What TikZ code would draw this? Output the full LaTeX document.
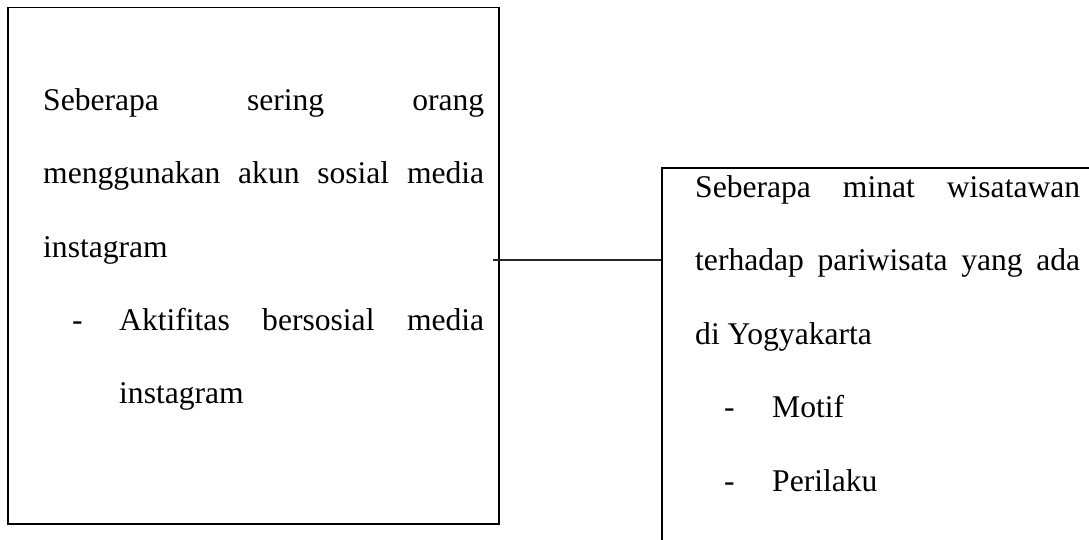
\documentclass[tikz,border=0pt]{standalone}
\usepackage{fontspec}
\setmainfont{Liberation Serif}
\begin{document}
\begin{tikzpicture}[x=1pt,y=-1pt,
  boxstyle/.style={draw=black, line width=1.6pt, inner sep=0pt, fill=none},
  conn/.style={draw=black!85, line width=1.3pt},
  ln/.style={anchor=base west, inner sep=0pt, font=\fontsize{31.6}{38}\selectfont}]
\useasboundingbox (0,0) rectangle (1089,540);
\clip (0,0) rectangle (1089,540);
\fill[white] (0,0) rectangle (1089,540);
% boxes
\node[boxstyle, minimum width=491pt, minimum height=516.5pt] (lbox) at (253.5,265.75) {};
\node[boxstyle, anchor=north west, minimum width=470pt, minimum height=430pt] (rbox) at (661,167) {};
% connector
\coordinate (cs) at (493,260);
\draw[conn] (cs) -- (cs -| rbox.west);
% left text
\node[ln] (l1) at (43,111) {\hbox to 441pt{Seberapa\hfill sering\hfill orang}};
\node[ln] (l2) at (43,184) {\hbox to 441pt{menggunakan\hfill akun\hfill sosial\hfill media}};
\node[ln] (l3) at (43,257) {instagram};
\node[ln] (l4d) at (72,330) {-};
\node[ln] (l4) at (119,330) {\hbox to 365pt{Aktifitas\hfill bersosial\hfill media}};
\node[ln] (l5) at (119,403) {instagram};
% right text
\node[ln] (r1) at (695,197) {\hbox to 385pt{Seberapa\hfill minat\hfill wisatawan}};
\node[ln] (r2) at (695,270.5) {\hbox to 385pt{terhadap\hfill pariwisata\hfill yang\hfill ada}};
\node[ln] (r3) at (695,344) {di Yogyakarta};
\node[ln] (r4d) at (724,417.5) {-};
\node[ln] (r4) at (772,417.5) {Motif};
\node[ln] (r5d) at (724,491) {-};
\node[ln] (r5) at (772,491) {Perilaku};
\end{tikzpicture}
\end{document}
